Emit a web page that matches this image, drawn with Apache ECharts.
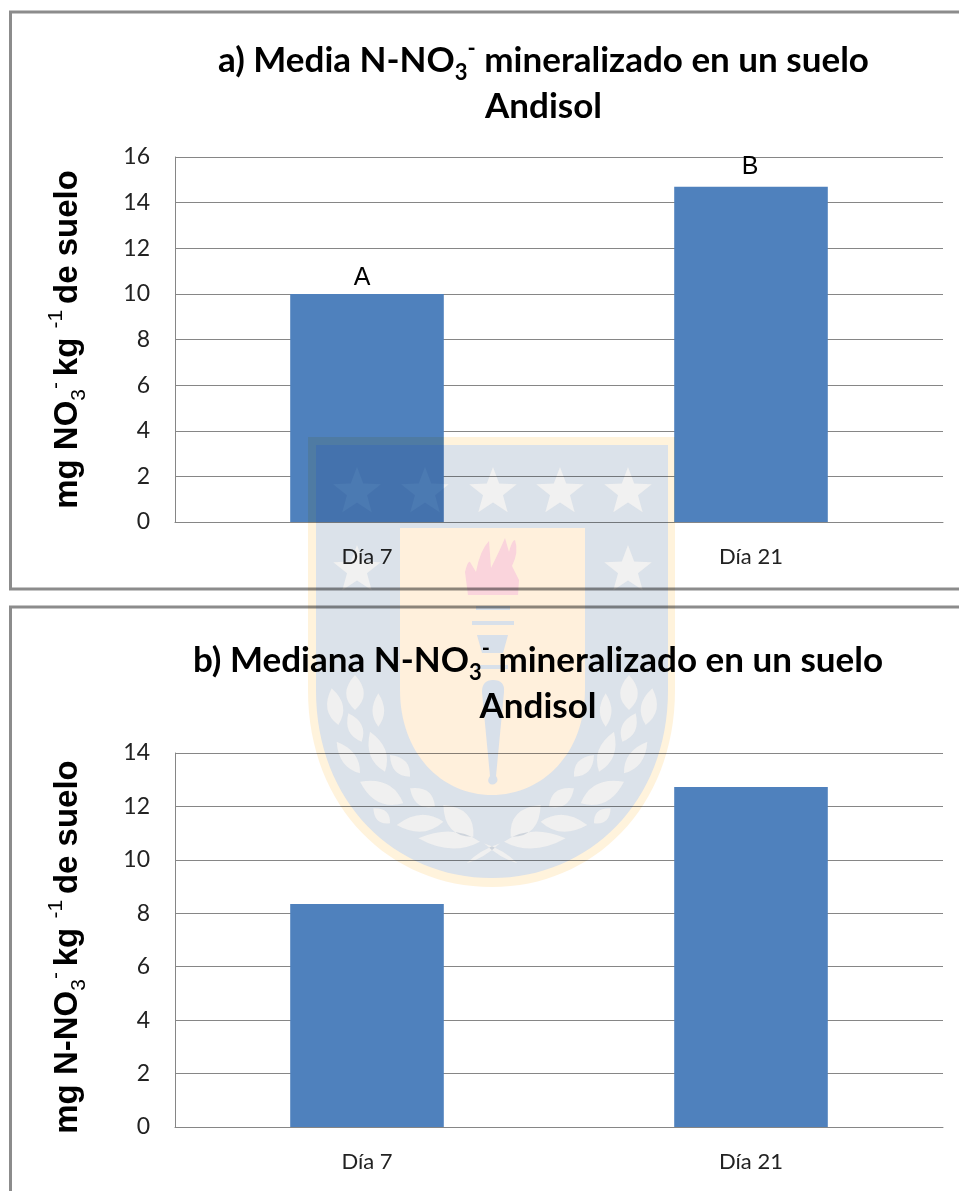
<!DOCTYPE html>
<html><head><meta charset="utf-8">
<style>html,body{margin:0;padding:0;background:#fff}#c{width:959px;height:1191px}</style>
<script src="https://cdn.jsdelivr.net/npm/echarts@6/dist/echarts.min.js"></script>
</head><body><div id="c"></div>
<script>
const categories = ['Día 7', 'Día 21'];
const mediaValues = [10.0, 14.7];
const medianaValues = [8.35, 12.73];
const mediaLetters = ['A', 'B'];
const letterOffsets = [[-5, 4], [-1, 0]];
const titleA = '{b|a) Media N-NO}{sub|3}{sup|-}{b| mineralizado en un suelo}\n{b|Andisol}';
const titleB = '{b|b) Mediana N-NO}{sub|3}{sup|-}{b| mineralizado en un suelo}\n{b|Andisol}';
const yNameA = '{b|mg NO}{sub|3}{sup|- }{b|kg }{sup|-1 }{b|de suelo}';
const yNameB = '{b|mg N-NO}{sub|3}{sup|- }{b|kg }{sup|-1 }{b|de suelo}';

const titleFont = 'Lato';
const axisFont = '"Liberation Sans"';
const titleRich = {
  b: {fontFamily: titleFont, fontWeight: 'bold', fontSize: 35, lineHeight: 46, color: '#000'},
  sub: {fontFamily: titleFont, fontWeight: 'bold', fontSize: 22, lineHeight: 46, color: '#000', verticalAlign: 'bottom'},
  sup: {fontFamily: titleFont, fontWeight: 'bold', fontSize: 22, lineHeight: 46, color: '#000', verticalAlign: 'top'}
};
const nameRich = {
  b: {fontFamily: axisFont, fontWeight: 'bold', fontSize: 33, lineHeight: 44, color: '#000'},
  sub: {fontFamily: axisFont, fontSize: 21, lineHeight: 44, color: '#000', verticalAlign: 'bottom'},
  sup: {fontFamily: axisFont, fontSize: 21, lineHeight: 44, color: '#000', verticalAlign: 'top'}
};
const GRID = '#868686';
const BAR = '#4f81bd';

function yAxis(idx, max, name, pad) {
  return {
    type: 'value', gridIndex: idx, min: 0, max: max, interval: 2,
    name: name, nameLocation: 'middle', nameRotate: 90, nameGap: 85,
    nameTextStyle: {rich: nameRich, padding: pad},
    axisLine: {show: true, lineStyle: {color: GRID, width: 1}},
    axisTick: {show: false},
    axisLabel: {fontFamily: 'Lato', fontSize: 23, color: '#222', margin: 25, padding: [2, 0, 0, 0]},
    splitLine: {show: true, lineStyle: {color: GRID, width: 1}}
  };
}
function xAxis(idx) {
  return {
    type: 'category', gridIndex: idx, data: categories,
    axisLine: {lineStyle: {color: GRID, width: 1}},
    axisTick: {show: false},
    axisLabel: {fontFamily: 'Lato', fontSize: 22, color: '#222', margin: 24}
  };
}

/* ---- watermark shield (decorative): non-overlapping regions, so multiply does not stack ---- */
const CX = 492;
function star(cx, cy, r) {
  const p = [];
  for (let i = 0; i < 10; i++) {
    const a = -Math.PI / 2 + i * Math.PI / 5, R = i % 2 ? r * 0.42 : r;
    p.push((cx + R * Math.cos(a)).toFixed(1) + ' ' + (cy + R * Math.sin(a)).toFixed(1));
  }
  return 'M' + p.join('L') + 'Z';
}
function shieldCW(l, r, t, sideY, bot) {
  return `M${l} ${t}L${r} ${t}L${r} ${sideY}C${r} ${sideY + (bot - sideY) * 0.6} ${CX + (r - CX) * 0.55} ${bot} ${CX} ${bot}C${CX - (CX - l) * 0.55} ${bot} ${l} ${sideY + (bot - sideY) * 0.6} ${l} ${sideY}Z`;
}
function shieldCCW(l, r, t, sideY, bot) {
  return `M${l} ${t}L${l} ${sideY}C${l} ${sideY + (bot - sideY) * 0.6} ${CX - (CX - l) * 0.55} ${bot} ${CX} ${bot}C${CX + (r - CX) * 0.55} ${bot} ${r} ${sideY + (bot - sideY) * 0.6} ${r} ${sideY}L${r} ${t}Z`;
}
function leaf(x0, y0, x1, y1, w, mirror) {
  const c = (x, y) => [310 + x / 3, 660 + y / 3];
  let [ax, ay] = c(x0, y0), [bx, by] = c(x1, y1);
  const W = w / 3 * 1.4, dx = bx - ax, dy = by - ay, L = Math.hypot(dx, dy);
  const nx = -dy / L * W, ny = dx / L * W;
  const mx = ax + dx * 0.45, my = ay + dy * 0.45;
  let p = [mx + nx, my + ny], q = [mx - nx, my - ny];
  if (mirror) { ax = 2 * CX - ax; bx = 2 * CX - bx; p[0] = 2 * CX - p[0]; q[0] = 2 * CX - q[0]; }
  /* force clockwise on screen */
  const cross = (p[0] - ax) * (by - ay) - (p[1] - ay) * (bx - ax);
  if (cross < 0) { const t = p; p = q; q = t; }
  return `M${ax} ${ay}Q${p[0]} ${p[1]} ${bx} ${by}Q${q[0]} ${q[1]} ${ax} ${ay}Z`;
}
const leafList = [
  [85,195,65,85,34],[135,150,135,45,38],[155,245,115,160,30],[205,200,205,100,25],
  [150,340,80,245,30],[225,335,180,215,34],[300,350,240,285,30],[280,430,150,365,42],
  [240,490,190,445,26],[375,440,300,385,34],[400,485,260,495,36],[490,530,400,435,46],
  [510,545,325,535,36],[470,610,570,550,10]
];
let leavesPath = '';
leafList.forEach(l => { leavesPath += leaf(...l, false) + leaf(...l, true); });
const starsPath = [[357,492],[425,492],[493,492],[560,492],[628,492],[357,570],[628,570]].map(s => star(s[0], s[1], 25)).join('');
const flamePath = 'M468 595L465 572Q468 560 470 562L476 572Q480 550 489 541L491 568Q500 550 505 538L509 552Q512 540 515 540Q519 552 512 566L519 580L518 595Z';
const torchPath = 'M476 606H510V610H476ZM472 621H514V625H472ZM477 635H508L503 653H482ZM476 665H508V669H476Z' +
  'M482 692Q482 680 493 680Q505 680 504 692L496 776Q499 780 496 783Q492 786 489 783Q487 780 490 776Z';
const SH_OUT = [308, 675, 437, 690, 887], SH_IN = [316, 668, 445, 690, 878], SH_PANEL = [400, 585, 528, 690, 795];

let wmCount = 0;
function path(d, fill) {
  const name = 'wmShape' + (wmCount++);
  echarts.graphic.registerShape(name, echarts.graphic.extendPath(d, {}));
  return {type: name, silent: true, z: 100, style: {fill: fill, blend: 'multiply'}};
}
function frame(y, h) {
  return {type: 'rect', shape: {x: 10.5, y: y, width: 1000, height: h}, silent: true, z: -10,
    style: {fill: 'transparent', stroke: '#8c8c8c', lineWidth: 3}};
}

const chart = echarts.init(document.getElementById('c'), null, {renderer: 'canvas'});
chart.setOption({
  animation: false,
  backgroundColor: '#fff',
  title: [
    {text: titleA, left: 538.5, top: 33, textAlign: 'center', textStyle: {rich: titleRich}},
    {text: titleB, left: 533, top: 633, textAlign: 'center', textStyle: {rich: titleRich}}
  ],
  grid: [
    {left: 175, top: 157, width: 768, height: 365},
    {left: 175, top: 753, width: 768, height: 374}
  ],
  xAxis: [xAxis(0), xAxis(1)],
  yAxis: [yAxis(0, 16, yNameA, [0, 0, 0, 0]), yAxis(1, 14, yNameB, [0, 14, 0, 0])],
  series: [
    {type: 'bar', xAxisIndex: 0, yAxisIndex: 0, barWidth: '40%',
     itemStyle: {color: BAR},
     data: mediaValues.map((v, i) => ({value: v, label: {show: true, position: 'top', distance: 7,
       formatter: mediaLetters[i], offset: letterOffsets[i],
       fontFamily: axisFont, fontSize: 25, color: '#000'}}))},
    {type: 'bar', xAxisIndex: 1, yAxisIndex: 1, barWidth: '40%',
     itemStyle: {color: BAR}, data: medianaValues}
  ],
  graphic: [
    frame(12, 577), frame(607, 700),
    path(shieldCW(...SH_OUT) + shieldCCW(...SH_IN), '#fff3dc'),
    path(shieldCCW(...SH_IN) + shieldCW(...SH_PANEL) + starsPath + leavesPath, '#dbe2ea'),
    path(shieldCCW(...SH_PANEL) + flamePath + torchPath, '#fff0dc'),
    path(starsPath, '#f1f1f1'),
    path(leavesPath, '#f0f0f0'),
    path(flamePath, '#fad4dc'),
    path(torchPath, '#d8e0ea')
  ]
});
</script></body></html>
